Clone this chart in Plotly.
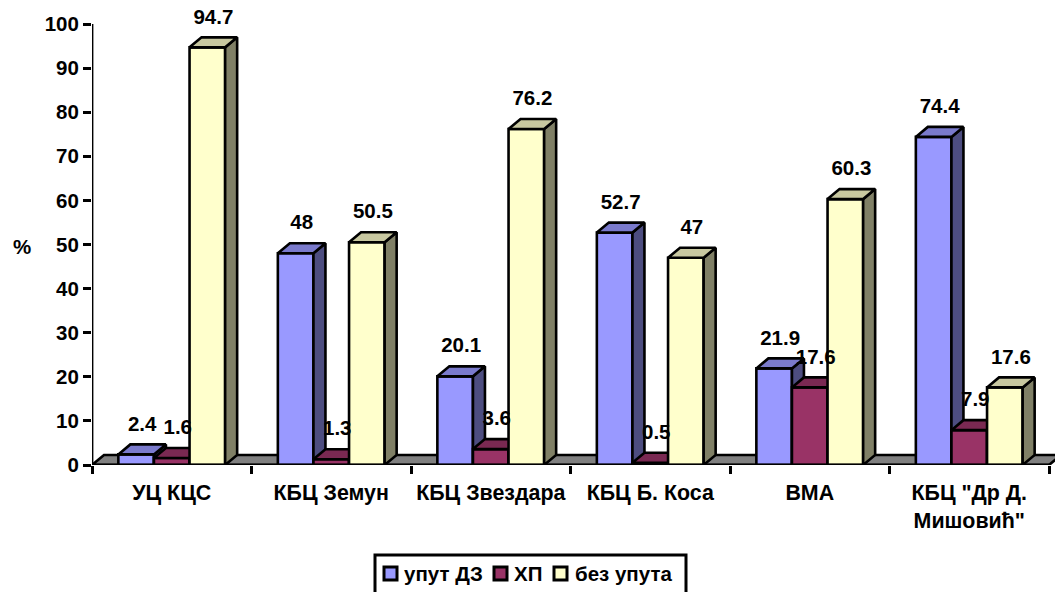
import plotly.graph_objects as go

categories = ["УЦ КЦС", "КБЦ Земун", "КБЦ Звездара", "КБЦ Б. Коса", "ВМА", 'КБЦ "Др Д.<br>Мишовић"']
uput_dz = [2.4, 48, 20.1, 52.7, 21.9, 74.4]
hp = [1.6, 1.3, 3.6, 0.5, 17.6, 7.9]
bez_uputa = [94.7, 50.5, 76.2, 47, 60.3, 17.6]
y_ticks = list(range(0, 101, 10))

W, H = 1055, 592
L, T, B = 92, 4, 127
PLOT_H = H - B - T
PX_X = 159.5
PX_Y = 4.41
DX = 12 / PX_X
DY = 10 / PX_Y
BAR_W = 35.6 / PX_X
n = len(categories)
xr = [0, (W - L) / PX_X]
yr = [0, PLOT_H / PX_Y]
FONT = "Liberation Sans"
FS = 20.5
LW = 2.6


def px(v):
    return (v - L) / (W - L)


def py(v):
    return (H - B - v) / PLOT_H


series = [
    ("упут ДЗ", uput_dz, "#9999FF", "#7A7ACC", "#4D4D80", "2"),
    ("ХП", hp, "#993366", "#7A2952", "#4D1A33", "3"),
    ("без упута", bez_uputa, "#FFFFCC", "#C8C8A0", "#808066", "4"),
]

fig = go.Figure()


def poly(xs, ys, color, ax):
    fig.add_trace(go.Scatter(
        x=xs, y=ys, mode="lines", fill="toself", fillcolor=color,
        line=dict(color="black", width=LW), showlegend=False, hoverinfo="skip",
        xaxis="x" + ax, yaxis="y" + ax))


poly([0, DX, n + DX, n, 0], [0, DY, DY, 0, 0], "#808080", "")

for k, (name, vals, front, top, side, ax) in enumerate(series):
    xc = [i + 0.5 + (k - 1) * BAR_W for i in range(n)]
    fig.add_trace(go.Bar(
        x=xc, y=vals, width=BAR_W, name=name, showlegend=False,
        marker=dict(color=front, line=dict(color="black", width=LW)),
        xaxis="x" + ax, yaxis="y" + ax))
    for c, v in zip(xc, vals):
        l, r = c - BAR_W / 2, c + BAR_W / 2
        poly([r, r + DX, r + DX, r, r], [0, DY, v + DY, v, 0], side, ax)
        poly([l, l + DX, r + DX, r, l], [v, v + DY, v + DY, v, v], top, ax)

# axis lines (the y line stops at 100 although the scale runs on for the top label)
for xs, ys, lw in [([0, n], [0, 0], 3), ([0, 0], [0, 100], 2.8)]:
    fig.add_trace(go.Scatter(x=xs, y=ys, mode="lines", line=dict(color="black", width=lw),
                             showlegend=False, hoverinfo="skip", xaxis="x4", yaxis="y4", cliponaxis=False))

lab_x, lab_y, lab_t = [], [], []
for k, (name, vals, *_rest) in enumerate(series):
    for i, v in enumerate(vals):
        lab_x.append(i + 0.5 + (k - 1) * BAR_W + DX / 2)
        lab_y.append(v + 29 / PX_Y)
        lab_t.append(f"{v:g}")
fig.add_trace(go.Scatter(x=lab_x, y=lab_y, text=lab_t, mode="text", textposition="middle center",
                         textfont=dict(family=FONT, size=FS, color="black", weight="bold"), showlegend=False,
                         hoverinfo="skip", xaxis="x4", yaxis="y4", cliponaxis=False))

hidden = dict(range=xr, visible=False)
hidden_y = dict(range=yr, visible=False)

# hand-placed legend, matching the reference's compact spacing
legend_shapes = [dict(type="rect", xref="paper", yref="paper", x0=px(375), x1=px(686), y0=py(600), y1=py(555),
                      line=dict(color="black", width=3), fillcolor="white", layer="above")]
legend_notes = []
glyph_x = [384, 494, 554]
text_x = [402, 512, 573]
for (name, _v, front, *_r), gx, tx in zip(series, glyph_x, text_x):
    legend_shapes.append(dict(type="rect", xref="paper", yref="paper", x0=px(gx), x1=px(gx + 13),
                              y0=py(580), y1=py(567), line=dict(color="black", width=3),
                              fillcolor=front, layer="above"))
    legend_notes.append(dict(text=f"<b>{name}</b>", xref="paper", yref="paper", x=px(tx), y=py(573),
                             xanchor="left", yanchor="middle", showarrow=False,
                             font=dict(family=FONT, size=FS)))

fig.update_layout(
    width=W, height=H, autosize=False,
    margin=dict(l=L, r=0, t=T, b=B, pad=0),
    paper_bgcolor="white", plot_bgcolor="white",
    font=dict(family=FONT, size=FS, color="black"),
    showlegend=False,
    xaxis=dict(range=xr, tickmode="array", tickvals=[i + 0.5 for i in range(n)], ticktext=categories,
               ticks="outside", ticklen=8, tickcolor="rgba(0,0,0,0)", showgrid=False, zeroline=False, showline=False,
               tickfont=dict(family=FONT, size=21.4, weight="bold"),
               minor=dict(tickvals=list(range(n + 1)), ticks="outside", ticklen=8, tickwidth=2.5, tickcolor="black",
                          showgrid=False)),
    yaxis=dict(range=yr, tickmode="array", tickvals=y_ticks, ticks="outside", ticklen=8,
               tickwidth=2.5, tickcolor="black", showline=False, showgrid=False,
               zeroline=False, tickfont=dict(family=FONT, size=FS, weight="bold")),
    xaxis2=dict(hidden, overlaying="x", anchor="y2"),
    yaxis2=dict(hidden_y, overlaying="y", anchor="x2"),
    xaxis3=dict(hidden, overlaying="x", anchor="y3"),
    yaxis3=dict(hidden_y, overlaying="y", anchor="x3"),
    xaxis4=dict(hidden, overlaying="x", anchor="y4"),
    yaxis4=dict(hidden_y, overlaying="y", anchor="x4"),
    shapes=legend_shapes,
    annotations=[dict(text="<b>%</b>", xref="paper", yref="paper", x=px(22), y=py(246),
                      xanchor="center", yanchor="middle", showarrow=False,
                      font=dict(family=FONT, size=FS))] + legend_notes,
)
fig.write_html("out.html", config={"displayModeBar": False},
               post_script="document.body.style.margin='0';document.documentElement.style.overflow='hidden';")
